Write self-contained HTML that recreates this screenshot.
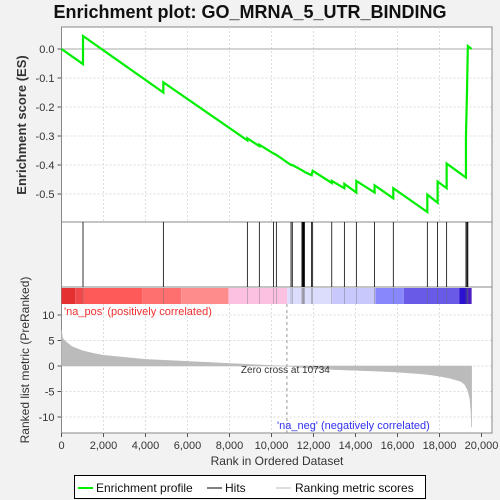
<!DOCTYPE html>
<html><head><meta charset="utf-8"><style>
body{margin:0;background:#f2f2f2;}
svg{display:block;font-family:"Liberation Sans",sans-serif;}
</style></head><body>
<svg id="c" width="500" height="500" viewBox="0 0 500 500"></svg>
<script>
const hitRanks=[1024,4850,8850,9420,10090,10230,10930,10990,11450,11480,11510,11540,11570,11910,11960,12870,13470,14040,14910,15800,17420,17910,18340,19260,19310,19350];
const esRanks=[0,1024,1024,4850,4850,8850,8850,9420,9420,10090,10230,10930,10990,11500,11600,11910,11960,12870,12870,13470,13470,14040,14040,14910,14910,15800,15800,17420,17420,17910,17910,18340,18340,19260,19260,19310,19350,19530];
const esValues=[0,-0.052,0.045,-0.15,-0.115,-0.315,-0.308,-0.335,-0.33,-0.36,-0.365,-0.40,-0.40,-0.42,-0.425,-0.435,-0.42,-0.462,-0.455,-0.48,-0.465,-0.495,-0.455,-0.495,-0.47,-0.515,-0.48,-0.562,-0.502,-0.53,-0.457,-0.48,-0.395,-0.443,-0.30,-0.145,0.01,0.0];
const metricRanks=[0,50,200,500,1000,1500,2000,3000,4000,5000,6000,7000,8000,9000,10000,10734,11500,12000,13000,14000,15000,16000,17000,17500,18000,18500,19000,19200,19350,19450,19500,19530];
const metricValues=[7,5.5,4.8,3.8,3.0,2.5,2.1,1.7,1.3,1.1,0.9,0.7,0.5,0.3,0.1,0,-0.3,-0.5,-0.7,-0.85,-1.0,-1.2,-1.5,-1.7,-2.0,-2.4,-3.0,-3.6,-4.8,-6.5,-9,-12];
const xTicks=[0,2000,4000,6000,8000,10000,12000,14000,16000,18000,20000];
const esTicks=[0,-0.1,-0.2,-0.3,-0.4,-0.5];
const mTicks=[10,5,0,-5,-10];
const barStops=[0,650,1000,3850,5700,7950,10750,12900,14950,16300,18950,19350,19530];
const barColors=["#e43030","#f04848","#fe5a5a","#fe7070","#fe8c8c","#fcc0e0","#dcdcfc","#c8c8fc","#8888fc","#6a5ae8","#2a10d0","#4a20c0"];
const svg=document.getElementById('c');const NS='http://www.w3.org/2000/svg';
function mk(t,a,p,name){const e=document.createElementNS(NS,t);for(const k in a)e.setAttribute(k,a[k]);


(p||svg).appendChild(e);return e;}
const X=r=>61.5+r*0.021;const YE=v=>49-v*290;const YM=v=>366-v*5.1;
const L=61.5,R=492;
mk('rect',{x:0,y:0,width:500,height:500,fill:'#f2f2f2'},null,'background');
mk('rect',{x:L,y:27,width:R-L,height:195,fill:'#fff',stroke:'#888','stroke-width':1},null,'es-panel');
mk('rect',{x:L,y:222,width:R-L,height:65,fill:'#fff',stroke:'#888','stroke-width':1},null,'hits-panel');
mk('rect',{x:L,y:287,width:R-L,height:146,fill:'#fff',stroke:'#888','stroke-width':1},null,'metric-panel');
xTicks.forEach(t=>{if(t>0&&t<20000){
mk('line',{x1:X(t),x2:X(t),y1:27,y2:222,stroke:'#ddd','stroke-dasharray':'2,2'},null,'es-vgrid');
mk('line',{x1:X(t),x2:X(t),y1:304,y2:433,stroke:'#ddd','stroke-dasharray':'2,2'},null,'metric-vgrid');}
mk('line',{x1:X(t),x2:X(t),y1:433,y2:437,stroke:'#555'},null,'x-tick');
mk('text',{x:X(t),y:449,'font-size':11,'text-anchor':'middle',fill:'#333'},null,'x-tick-label').textContent=t.toLocaleString('en-US');});
esTicks.forEach(t=>{mk('line',{x1:L,x2:R,y1:YE(t),y2:YE(t),stroke:t===0?'#aaa':'#ddd','stroke-dasharray':t===0?'':'2,2'},null,'es-hgrid');
mk('line',{x1:L-4,x2:L,y1:YE(t),y2:YE(t),stroke:'#555'},null,'es-tick');
mk('text',{x:L-7,y:YE(t)+4,'font-size':11,'text-anchor':'end',fill:'#333'},null,'es-tick-label').textContent=t.toFixed(1);});
mTicks.forEach(t=>{mk('line',{x1:L,x2:R,y1:YM(t),y2:YM(t),stroke:'#ddd','stroke-dasharray':'2,2'},null,'metric-hgrid');
mk('line',{x1:L-4,x2:L,y1:YM(t),y2:YM(t),stroke:'#555'},null,'metric-tick');
mk('text',{x:L-7,y:YM(t)+4,'font-size':11,'text-anchor':'end',fill:'#333'},null,'metric-tick-label').textContent=t;});
for(let i=0;i<barColors.length;i++)mk('rect',{x:X(barStops[i]),y:288,width:X(barStops[i+1])-X(barStops[i]),height:16,fill:barColors[i]},null,'rank-color-segment');
hitRanks.forEach(r=>{mk('line',{x1:X(r),x2:X(r),y1:222,y2:287,stroke:'#000','stroke-width':0.8},null,'hit-line');
mk('line',{x1:X(r),x2:X(r),y1:288,y2:304,stroke:'#666','stroke-width':0.6,opacity:0.6},null,'hit-line-bar');});
let d='M'+X(0)+','+YM(0);metricRanks.forEach((r,i)=>d+=' L'+X(r)+','+YM(metricValues[i]));d+=' L'+X(metricRanks[metricRanks.length-1])+','+YM(0)+'Z';
mk('path',{d:d,fill:'#bbb',stroke:'#bbb','stroke-width':0.5},null,'ranking-metric-area');
mk('line',{x1:X(10734),x2:X(10734),y1:304,y2:433,stroke:'#999','stroke-dasharray':'3,3'},null,'zero-cross-line');
mk('text',{x:X(10734)-46,y:373,'font-size':10,fill:'#333'},null,'zero-cross-label').textContent='Zero cross at 10734';
mk('text',{x:64,y:315,'font-size':11,fill:'#f03030'},null,'pos-label').textContent="'na_pos' (positively correlated)";
mk('text',{x:277,y:429,'font-size':11,fill:'#3030f0'},null,'neg-label').textContent="'na_neg' (negatively correlated)";
mk('polyline',{points:esRanks.map((r,i)=>X(r)+','+YE(esValues[i])).join(' '),fill:'none',stroke:'#00ee00','stroke-width':2.2},null,'enrichment-profile');
mk('text',{x:250,y:18,'font-size':18,'font-weight':'bold','text-anchor':'middle',fill:'#111'},null,'chart-title').textContent='Enrichment plot: GO_MRNA_5_UTR_BINDING';
mk('text',{x:26,y:125,'font-size':13,'font-weight':'bold','text-anchor':'middle',fill:'#333',transform:'rotate(-90 26 125)'},null,'es-axis-title').textContent='Enrichment score (ES)';
mk('text',{x:29,y:360,'font-size':12,'text-anchor':'middle',fill:'#333',transform:'rotate(-90 29 360)'},null,'metric-axis-title').textContent='Ranked list metric (PreRanked)';
mk('text',{x:277,y:465,'font-size':12,'text-anchor':'middle',fill:'#333'},null,'x-axis-title').textContent='Rank in Ordered Dataset';
const g=mk('g',{},null,'legend');
mk('rect',{x:74.5,y:475.5,width:351,height:23,fill:'#fff',stroke:'#000'},g,'legend-box');
mk('line',{x1:78,x2:93,y1:488,y2:488,stroke:'#00ee00','stroke-width':2},g,'legend-es-swatch');
mk('text',{x:96,y:492,'font-size':12,fill:'#111'},g,'legend-es-label').textContent='Enrichment profile';
mk('line',{x1:207,x2:222,y1:488,y2:488,stroke:'#000'},g,'legend-hits-swatch');
mk('text',{x:225,y:492,'font-size':12,fill:'#111'},g,'legend-hits-label').textContent='Hits';
mk('line',{x1:276,x2:291,y1:488,y2:488,stroke:'#bbb'},g,'legend-metric-swatch');
mk('text',{x:295,y:492,'font-size':12,fill:'#111'},g,'legend-metric-label').textContent='Ranking metric scores';
</script>
</body></html>
